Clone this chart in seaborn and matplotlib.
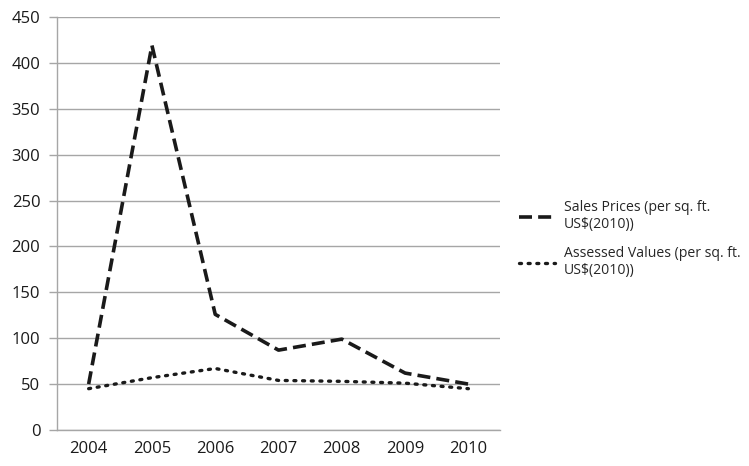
import matplotlib
matplotlib.use("Agg")
import matplotlib.pyplot as plt
import seaborn as sns
import pandas as pd
import numpy as np

years = [2004, 2005, 2006, 2007, 2008, 2009, 2010]
sales_prices = [50, 419, 126, 87, 99, 62, 50]
assessed_values = [45, 57, 67, 54, 53, 51, 45]
series_names = ["Sales Prices (per sq. ft.\nUS$(2010))",
                "Assessed Values (per sq. ft.\nUS$(2010))"]
y_ticks = list(range(0, 451, 50))

df = pd.DataFrame({
    "year": years * 2,
    "value": sales_prices + assessed_values,
    "series": [series_names[0]] * len(years) + [series_names[1]] * len(years),
})

sns.set_style("white")
plt.rcParams["font.family"] = ["Open Sans", "DejaVu Sans"]

DASH = (3.6, 1.7)
DOT = (0.6, 2.0)

fig = plt.figure(figsize=(7.49, 4.66), dpi=100)
ax = fig.add_axes([0.0761, 0.0773, 0.5915, 0.8862])

sns.lineplot(
    data=df, x="year", y="value", style="series", ax=ax,
    color="#1a1a1a", linewidth=2.6,
    dashes={series_names[0]: DASH, series_names[1]: DOT},
    legend=False,
)
ax.lines[1].set_dash_capstyle("round")
ax.lines[1].set_linewidth(2.4)

ax.set_xlim(years[0] - 0.5, years[-1] + 0.5)
ax.set_ylim(0, 450)
ax.set_yticks(y_ticks)
ax.yaxis.grid(True, color="#a6a6a6", linewidth=1.0)
ax.set_axisbelow(True)

# category boundaries carry the tick marks, labels sit at category centres
ax.set_xticks(np.arange(years[0] - 0.5, years[-1] + 1.0, 1.0))
ax.set_xticklabels([])
ax.set_xticks(years, minor=True)
ax.set_xticklabels([str(y) for y in years], minor=True)
ax.tick_params(axis="x", which="major", length=6, color="#a6a6a6", width=1.0, direction="out")
ax.tick_params(axis="x", which="minor", length=0, labelsize=12, pad=8, colors="#1a1a1a")
ax.tick_params(axis="y", length=6, color="#a6a6a6", width=1.0, labelsize=12, pad=6,
               labelcolor="#1a1a1a", direction="out", left=True)

for side in ["top", "right"]:
    ax.spines[side].set_visible(False)
for side in ["left", "bottom"]:
    ax.spines[side].set_color("#a6a6a6")
    ax.spines[side].set_linewidth(1.0)

ax.set_xlabel("")
ax.set_ylabel("")

handles = [
    plt.Line2D([], [], color="#1a1a1a", linewidth=2.6, dashes=DASH),
    plt.Line2D([], [], color="#1a1a1a", linewidth=2.4, dashes=DOT,
               dash_capstyle="round"),
]
fig.legend(handles, series_names, loc="upper left", bbox_to_anchor=(0.676, 0.598),
           frameon=False, fontsize=10.1, handlelength=2.6, handletextpad=0.6,
           labelspacing=1.0, alignment="left")
fig.savefig("out.png", dpi=100)
